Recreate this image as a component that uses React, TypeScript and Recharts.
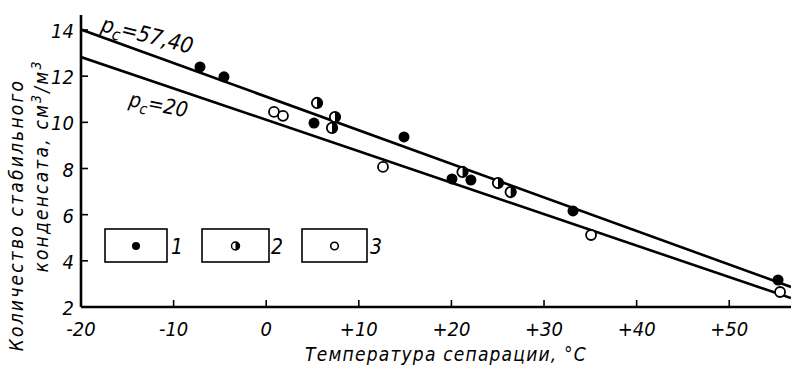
import React from "react";
import { ComposedChart, XAxis, YAxis, Line, Scatter } from "recharts";

const xTicks = [-20, -10, 0, 10, 20, 30, 40, 50];
const xTickLabels = ["-20", "-10", "0", "+10", "+20", "+30", "+40", "+50"];
const yTicks = [2, 4, 6, 8, 10, 12, 14];

const series1 = [
  { x: -7.15, y: 12.4 },
  { x: -4.56, y: 11.97 },
  { x: 5.16, y: 9.97 },
  { x: 14.88, y: 9.37 },
  { x: 20.06, y: 7.55 },
  { x: 22.1, y: 7.5 },
  { x: 33.13, y: 6.16 },
  { x: 55.27, y: 3.17 },
];
const series2 = [
  { x: 5.49, y: 10.84 },
  { x: 7.43, y: 10.23 },
  { x: 7.11, y: 9.76 },
  { x: 21.2, y: 7.85 },
  { x: 25.03, y: 7.37 },
  { x: 26.4, y: 6.98 },
];
const series3 = [
  { x: 0.84, y: 10.45 },
  { x: 1.81, y: 10.28 },
  { x: 12.61, y: 8.07 },
  { x: 35.08, y: 5.12 },
  { x: 55.49, y: 2.65 },
];
const lineHigh = [
  { x: -20, y: 14.02 },
  { x: 56.67, y: 2.87 },
];
const lineLow = [
  { x: -20, y: 12.83 },
  { x: 56.67, y: 2.39 },
];
const legendLabels = ["1", "2", "3"];

const FONT = "'DejaVu Sans Condensed', 'DejaVu Sans', sans-serif";

const FilledDot = (p: any) => <circle cx={p.cx} cy={p.cy} r={5.5} fill="#000" />;
const OpenDot = (p: any) => (
  <circle cx={p.cx} cy={p.cy} r={5} fill="#fff" stroke="#000" strokeWidth={1.8} />
);
const HalfDot = (p: any) => {
  const r = 5.2;
  return (
    <g>
      <circle cx={p.cx} cy={p.cy} r={r} fill="#fff" stroke="#000" strokeWidth={1.8} />
      <path
        d={`M ${p.cx} ${p.cy - r} A ${r} ${r} 0 0 1 ${p.cx} ${p.cy + r} Z`}
        fill="#000"
      />
    </g>
  );
};

const XTick = (props: any) => {
  const { x, y, payload } = props;
  const i = xTicks.indexOf(payload.value);
  return (
    <g>
      {i > 0 && <line x1={x} y1={y} x2={x} y2={y - 7} stroke="#000" strokeWidth={1.6} />}
      <text
        x={x}
        y={y + 29}
        textAnchor="middle"
        fontFamily={FONT}
        fontStyle="italic"
        fontSize={20}
        fill="#000"
      >
        {xTickLabels[i]}
      </text>
    </g>
  );
};

const YTick = (props: any) => {
  const { x, y, payload } = props;
  return (
    <g>
      {payload.value > 2 && (
        <line x1={x} y1={y} x2={x + 7} y2={y} stroke="#000" strokeWidth={1.6} />
      )}
      <text
        x={x - 7}
        y={y + 8}
        textAnchor="end"
        fontFamily={FONT}
        fontStyle="italic"
        fontSize={20}
        fill="#000"
      >
        {payload.value}
      </text>
    </g>
  );
};

const LegendBoxes = () => {
  const boxes = [
    { x: 105, w: 62, lx: 177, kind: 0 },
    { x: 202, w: 67, lx: 277, kind: 1 },
    { x: 302, w: 65, lx: 376, kind: 2 },
  ];
  return (
    <g>
      {boxes.map((b, i) => {
        const cx = b.x + b.w / 2;
        const cy = 246;
        return (
          <g key={i}>
            <rect x={b.x} y={229} width={b.w} height={33} fill="#fff" stroke="#000" strokeWidth={1.6} />
            {b.kind === 0 && <circle cx={cx} cy={cy} r={4} fill="#000" />}
            {b.kind === 1 && (
              <g>
                <circle cx={cx} cy={cy} r={4} fill="#fff" stroke="#000" strokeWidth={1.5} />
                <path d={`M ${cx} ${cy - 4} A 4 4 0 0 1 ${cx} ${cy + 4} Z`} fill="#000" />
              </g>
            )}
            {b.kind === 2 && (
              <circle cx={cx} cy={cy} r={3.8} fill="#fff" stroke="#000" strokeWidth={1.6} />
            )}
            <text
              x={b.lx}
              y={254}
              textAnchor="middle"
              fontFamily={FONT}
              fontStyle="italic"
              fontSize={21}
              fill="#000"
            >
              {legendLabels[i]}
            </text>
          </g>
        );
      })}
    </g>
  );
};

export default function App() {
  return (
    <div style={{ position: "absolute", left: 0, top: 0, width: 791, height: 368, background: "#fff" }}>
      <ComposedChart
        width={791}
        height={368}
        margin={{ top: 15, right: 0, bottom: 31, left: 41 }}
      >
        <XAxis
          type="number"
          dataKey="x"
          domain={[-20, 56.67]}
          ticks={xTicks}
          interval={0}
          allowDataOverflow
          height={30}
          tickSize={0}
          tickMargin={0}
          tick={<XTick />}
          axisLine={{ stroke: "#000", strokeWidth: 2.6 }}
        />
        <YAxis
          type="number"
          dataKey="y"
          domain={[2, 14.65]}
          ticks={yTicks}
          interval={0}
          allowDataOverflow
          width={40}
          tickSize={0}
          tickMargin={0}
          tick={<YTick />}
          axisLine={{ stroke: "#000", strokeWidth: 2.6 }}
        />
        <Line
          data={lineHigh}
          dataKey="y"
          type="linear"
          stroke="#000"
          strokeWidth={2.6}
          dot={false}
          isAnimationActive={false}
        />
        <Line
          data={lineLow}
          dataKey="y"
          type="linear"
          stroke="#000"
          strokeWidth={2.6}
          dot={false}
          isAnimationActive={false}
        />
        <Scatter data={series1} dataKey="y" shape={<FilledDot />} isAnimationActive={false} />
        <Scatter data={series2} dataKey="y" shape={<HalfDot />} isAnimationActive={false} />
        <Scatter data={series3} dataKey="y" shape={<OpenDot />} isAnimationActive={false} />
      </ComposedChart>
      <svg
        width={791}
        height={368}
        style={{ position: "absolute", left: 0, top: 0, pointerEvents: "none" }}
        fontFamily={FONT}
        fontStyle="italic"
        fill="#000"
      >
        <LegendBoxes />
        <text transform="rotate(14, 100, 31)" x={100} y={31} fontSize={22}>
          p<tspan fontSize={16} dy={5}>c</tspan>
          <tspan dy={-5}>=57,40</tspan>
        </text>
        <text transform="rotate(11, 128, 106)" x={128} y={106} fontSize={21}>
          p<tspan fontSize={15} dy={5}>c</tspan>
          <tspan dy={-5}>=20</tspan>
        </text>
        <text
          transform="rotate(-90, 23, 215)"
          x={23}
          y={215}
          textAnchor="middle"
          fontSize={19}
          letterSpacing={2.2}
        >
          Количество стабильного
        </text>
        <text
          transform="rotate(-90, 48, 166)"
          x={48}
          y={166}
          textAnchor="middle"
          fontSize={19}
          letterSpacing={2.2}
        >
          конденсата, см<tspan fontSize={14} dy={-7}>3</tspan>
          <tspan dy={7}>/м</tspan>
          <tspan fontSize={14} dy={-7}>3</tspan>
        </text>
        <text x={446} y={361} textAnchor="middle" fontSize={19} letterSpacing={1.2}>
          Температура сепарации, °С
        </text>
      </svg>
    </div>
  );
}
